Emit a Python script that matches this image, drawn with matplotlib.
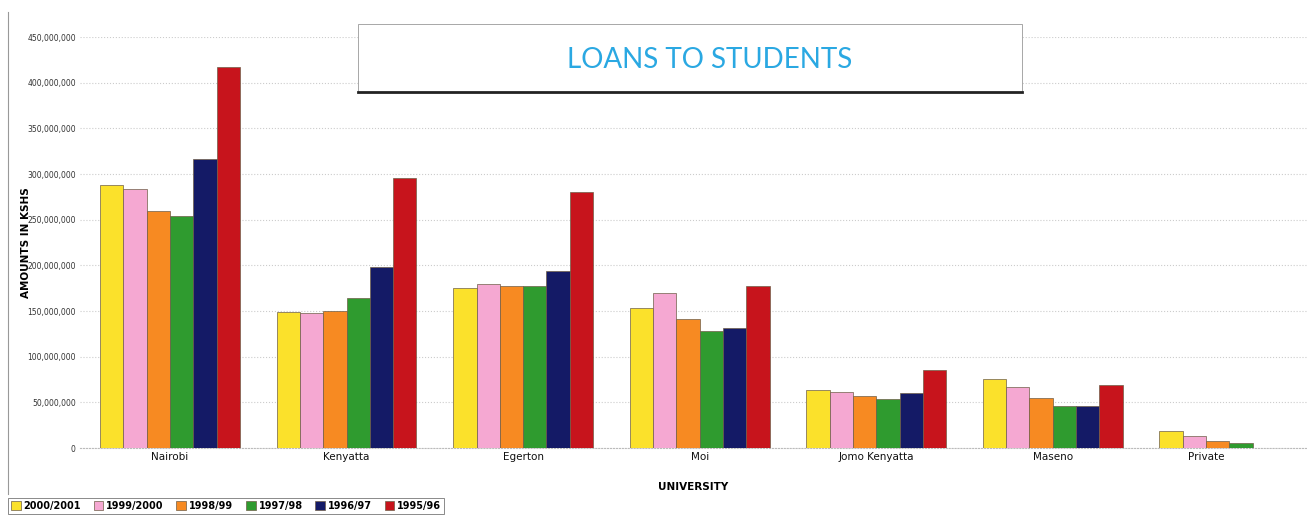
import matplotlib.pyplot as plt
from matplotlib.lines import Line2D
from matplotlib.patches import Rectangle
from matplotlib.ticker import FuncFormatter
import numpy as np

universities = ['Nairobi', 'Kenyatta', 'Egerton', 'Moi', 'Jomo Kenyatta', 'Maseno', 'Private']
years = ['2000/2001', '1999/2000', '1998/99', '1997/98', '1996/97', '1995/96']

# amounts in millions of KShs
y2000_01 = [288, 149, 175, 153, 64, 76, 19]
y1999_00 = [284, 148, 180, 170, 61, 67, 13]
y1998_99 = [260, 150, 177, 141, 57, 55, 8]
y1997_98 = [254, 164, 177, 128, 54, 46, 5.5]
y1996_97 = [317, 198, 194, 131, 60, 46, 0]
y1995_96 = [417, 296, 280, 177, 85, 69, 0]

colors = ['#fbe12b', '#f5a8d2', '#f78a22', '#2f9b2f', '#141a66', '#c7141c']

series = [y2000_01, y1999_00, y1998_99, y1997_98, y1996_97, y1995_96]

fig = plt.figure(figsize=(13.07, 5.24), dpi=100)
ax = fig.add_axes([80 / 1307, 0.145, 1227 / 1307, 0.784])

x = np.arange(len(universities))
w = 0.132
offs = (np.arange(len(series)) - 2.5) * w
data = np.array(series, dtype=float) * 1e6
for i, c in enumerate(colors):
    mask = data[i] > 0
    ax.bar(x[mask] + offs[i], data[i][mask], w, color=c, edgecolor='#6e5e48',
           linewidth=0.5, label=years[i], zorder=3)

# category label sits under the bars actually drawn
label_pos = [x[j] + offs[data[:, j] > 0].mean() for j in range(len(universities))]

ax.set_xlim(-0.51, 6.44)
ax.set_ylim(0, 450e6)
ax.set_yticks(np.arange(0, 451e6, 50e6))
ax.yaxis.set_major_formatter(FuncFormatter(lambda v, p: '{:,.0f}'.format(v)))
ax.set_xticks(label_pos)
ax.set_xticklabels(universities, fontsize=7.5)
ax.tick_params(axis='y', labelsize=5.5, colors='#333333', length=0, pad=3)
ax.tick_params(axis='x', length=0, pad=3, colors='#111111')
ax.yaxis.grid(True, color='#cccccc', linestyle=':', linewidth=0.8, zorder=0)

for s in ['top', 'right', 'left']:
    ax.spines[s].set_visible(False)
ax.spines['bottom'].set(color='#bbbbbb', linewidth=0.8, linestyle=':')

ax.set_xlabel('UNIVERSITY', fontsize=7.5, fontweight='bold', labelpad=14)
ax.set_ylabel('AMOUNTS IN KSHS', fontsize=7.5, fontweight='bold', labelpad=-3)

# title box
fig.patches.append(Rectangle((358 / 1307, 1 - 92 / 524), 664 / 1307, 68 / 524,
                             transform=fig.transFigure, facecolor='white',
                             edgecolor='#999999', linewidth=0.6, zorder=5))
fig.lines.append(Line2D([358 / 1307, 1022 / 1307], [1 - 92 / 524] * 2,
                        transform=fig.transFigure, color='#222222', linewidth=2, zorder=6))
fig.text(710 / 1307, 1 - 60 / 524, 'LOANS TO STUDENTS', color='#2aa8e2',
         fontsize=20, family='Lato', ha='center', va='center', zorder=7)

# page border line
fig.lines.append(Line2D([8 / 1307, 8 / 1307], [1 - 12 / 524, 1 - 494 / 524],
                        transform=fig.transFigure, color='#999999', linewidth=0.8))

leg = fig.legend(loc='lower left', bbox_to_anchor=(8 / 1307, 10 / 524), ncol=6,
                 prop={'weight': 'bold', 'size': 7}, frameon=True,
                 fancybox=False, edgecolor='#555555', handlelength=1.0,
                 handleheight=1.0, handletextpad=0.3, columnspacing=1.3,
                 borderpad=0.3, borderaxespad=0)
leg.get_frame().set_linewidth(0.6)

fig.savefig('out.png', dpi=100)
